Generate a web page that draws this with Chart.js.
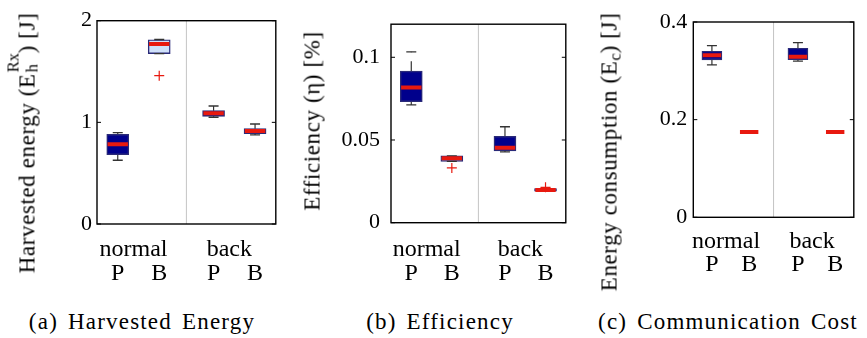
<!DOCTYPE html>
<html>
<head>
<meta charset="utf-8">
<script src="https://cdn.jsdelivr.net/npm/chart.js@4.4.1/dist/chart.umd.min.js"></script>
<style>
  html, body { margin: 0; padding: 0; background: #fff; }
  #wrap { position: relative; width: 867px; height: 338px; background: #fff; overflow: hidden; }
  canvas { position: absolute; top: 0; }
  .ytitle { position: absolute; font-family: "Liberation Serif", "Times New Roman", "DejaVu Serif", serif; font-size: 23px; line-height: 1;
            white-space: nowrap; color: #000; transform: translate(-50%, -50%) rotate(-90deg); letter-spacing: 0.6px; }
  .ss { position: relative; display: inline-block; width: 20px; height: 23px; vertical-align: baseline; }
  .ss .sup, .ss .sub { position: absolute; left: 1px; display: block; font-size: 16.5px; line-height: 1; letter-spacing: 0; }
  .ss .sup { top: -6px; }
  .ss .sub { top: 13px; }
  .sb { position: relative; top: 4px; font-size: 16.5px; letter-spacing: 0; }
  .cap { position: absolute; top: 310px; font-family: "Liberation Serif", "Times New Roman", "DejaVu Serif", serif; font-size: 23px; line-height: 23px;
         white-space: nowrap; color: #000; transform: translateX(-50%); letter-spacing: 1.2px; word-spacing: 3px; }
</style>
</head>
<body>
<div id="wrap">
  <canvas id="chartA" width="290" height="300" style="left:0px"></canvas>
  <canvas id="chartB" width="290" height="300" style="left:290px"></canvas>
  <canvas id="chartC" width="287" height="300" style="left:580px"></canvas>

  <div class="ytitle" style="left:25px; top:143px;">Harvested energy (E<span class="ss"><span class="sup">Rx</span><span class="sub">h</span></span>) [J]</div>
  <div class="ytitle" style="left:312px; top:121px;">Efficiency (η) [%]</div>
  <div class="ytitle" style="left:609px; top:152px;">Energy consumption (E<span class="sb">c</span>) [J]</div>

  <div class="cap" style="left:142px;">(a) Harvested Energy</div>
  <div class="cap" style="left:440px;">(b) Efficiency</div>
  <div class="cap" style="left:728px;">(c) Communication Cost</div>
</div>
<script>
// ---------------- data ----------------
const categories = ['P', 'B', 'P', 'B'];
const groups = ['normal', 'back'];
const positions = [1, 2, 3.31, 4.31];
const groupPositions = [1.38, 3.69];
const dividers = [2.655];

// (a) Harvested energy [J]
const harvestedHigh = [0.898, 1.815, 1.161, 0.984];
const harvestedQ3   = [0.882, 1.813, 1.115, 0.938];
const harvestedMed  = [0.784, 1.771, 1.089, 0.915];
const harvestedQ1   = [0.682, 1.676, 1.059, 0.888];
const harvestedLow  = [0.627, 1.676, 1.050, 0.876];
const harvestedOutliers = [[1, 1.459]];
const harvestedTicks = [0, 1, 2];
const harvestedTickLabels = ['0', '1', '2'];
const harvestedMax = 2;

// (b) Efficiency [%]
const efficiencyHigh = [0.1033, 0.0404, 0.0580, 0.0207];
const efficiencyQ3   = [0.0916, 0.0404, 0.0522, 0.0207];
const efficiencyMed  = [0.0817, 0.0390, 0.0453, 0.0198];
const efficiencyQ1   = [0.0732, 0.0371, 0.0434, 0.0191];
const efficiencyLow  = [0.0712, 0.0371, 0.0428, 0.0191];
const efficiencyOutliers = [[1, 0.0331], [3, 0.0214]];
const efficiencyTicks = [0, 0.05, 0.1];
const efficiencyTickLabels = ['0', '0.05', '0.1'];
const efficiencyMax = 0.12;

// (c) Energy consumption [J]
const commHigh = [0.3516, 0.1748, 0.3578, 0.1748];
const commQ3   = [0.3400, 0.1748, 0.3463, 0.1748];
const commMed  = [0.3320, 0.1748, 0.3290, 0.1748];
const commQ1   = [0.3223, 0.1748, 0.3230, 0.1748];
const commLow  = [0.3120, 0.1748, 0.3200, 0.1748];
const commOutliers = [];
const commTicks = [0, 0.2, 0.4];
const commTickLabels = ['0', '0.2', '0.4'];
const commMax = 0.4;

// ---------------- style ----------------
const boxFill = { P: '#00008c', B: '#cfe0fa' };
const boxEdge = '#2a2a78';
const medianColor = '#e8190f';
const whiskerColor = '#333333';
const dividerColor = '#c4c4c4';
const serifFamily = '"Liberation Serif", "Times New Roman", "DejaVu Serif", serif';

Chart.defaults.font.family = serifFamily;
Chart.defaults.font.size = 22;
Chart.defaults.font.lineHeight = 1.2;
Chart.defaults.color = '#000';

const framePlugin = {
  id: 'frame',
  afterDatasetsDraw(chart) {
    const { ctx, chartArea: a, scales } = chart;
    const y = scales.y;
    ctx.save();
    ctx.strokeStyle = '#000';
    ctx.lineWidth = 1;
    y.ticks.forEach(t => {
      const py = y.getPixelForValue(t.value);
      ctx.beginPath();
      ctx.moveTo(a.left, py); ctx.lineTo(a.left + 4, py);
      ctx.moveTo(a.right, py); ctx.lineTo(a.right - 4, py);
      ctx.stroke();
    });
    ctx.lineWidth = 1.4;
    ctx.strokeRect(a.left, a.top, a.right - a.left, a.bottom - a.top);
    ctx.restore();
  }
};

function buildChart(id, d, L) {
  const boxes = positions.map((p, i) => ({ x: p, y: [d.q1[i], d.q3[i]] }));
  const meds = positions.map((p, i) => ({ x: p, y: d.med[i] }));
  const caps = [];
  const stems = [];
  positions.forEach((p, i) => {
    caps.push({ x: p, y: d.hi[i] }, { x: p, y: d.lo[i] });
    stems.push({ x: p, y: d.q3[i] }, { x: p, y: d.hi[i] }, { x: p, y: null },
               { x: p, y: d.q1[i] }, { x: p, y: d.lo[i] }, { x: p, y: null });
  });
  const outs = d.out.map(o => ({ x: positions[o[0]], y: o[1] }));
  const divLine = [];
  dividers.forEach(x => { divLine.push({ x: x, y: d.ticks[0] }, { x: x, y: d.max }, { x: x, y: null }); });
  const tickFont = { family: serifFamily, size: 22, lineHeight: 1.2 };
  const xFont = { family: serifFamily, size: 24, lineHeight: 1.2 };

  return new Chart(document.getElementById(id), {
    type: 'bar',
    data: {
      datasets: [
        { type: 'line', data: divLine, borderColor: dividerColor, borderWidth: 1, pointRadius: 0, spanGaps: false, order: 6 },
        { type: 'line', data: stems, borderColor: whiskerColor, borderWidth: 1.2, borderDash: [10, 9], pointRadius: 0, spanGaps: false, order: 5 },
        { type: 'bar', data: boxes, backgroundColor: categories.map(c => boxFill[c]), borderColor: boxEdge,
          borderWidth: 1.4, borderSkipped: false, barThickness: L.bar, order: 4 },
        { type: 'line', data: caps, showLine: false, pointStyle: 'line', pointRadius: 5, pointBorderWidth: 1.3,
          pointBorderColor: whiskerColor, borderColor: whiskerColor, order: 3 },
        { type: 'line', data: meds, showLine: false, pointStyle: 'line', pointRadius: L.bar / 2 - 0.8, pointBorderWidth: 4,
          pointBorderColor: medianColor, borderColor: medianColor, order: 2 },
        { type: 'line', data: outs, showLine: false, pointStyle: 'cross', pointRadius: 5, pointBorderWidth: 1.2,
          pointBorderColor: medianColor, borderColor: medianColor, order: 1 }
      ]
    },
    options: {
      responsive: false,
      animation: false,
      events: [],
      layout: { padding: { left: 0, right: L.right, top: L.top, bottom: L.bottom } },
      plugins: { legend: { display: false }, tooltip: { enabled: false } },
      scales: {
        x: {
          type: 'linear', position: 'bottom', weight: 1, min: 0.5, max: 4.81, offset: false, display: true,
          grid: { display: false, offset: false, drawTicks: false }, border: { display: false },
          afterBuildTicks: s => { s.ticks = positions.map(v => ({ value: v })); },
          afterFit: s => { s.height = 30; },
          ticks: { font: xFont, color: '#000', autoSkip: false, maxRotation: 0, padding: L.xPad, callback: (v, i) => categories[i] }
        },
        x2: {
          type: 'linear', position: 'bottom', weight: 0, min: 0.5, max: 4.81, offset: false, display: true,
          grid: { display: false, drawTicks: false }, border: { display: false },
          afterBuildTicks: s => { s.ticks = groupPositions.map(v => ({ value: v })); },
          afterFit: s => { s.height = L.x2H; },
          ticks: { font: xFont, color: '#000', autoSkip: false, maxRotation: 0, padding: L.x2Pad, callback: (v, i) => groups[i] }
        },
        y: {
          type: 'linear', position: 'left', min: 0, max: d.max, beginAtZero: true,
          grid: { display: false, drawTicks: false }, border: { display: false },
          afterBuildTicks: s => { s.ticks = d.ticks.map(v => ({ value: v })); },
          afterFit: s => { s.width = L.yWidth; },
          ticks: { font: tickFont, color: '#000', autoSkip: false, padding: L.yPad, callback: (v, i) => d.labels[i] }
        }
      }
    },
    plugins: [framePlugin]
  });
}

function buildAll() {
  buildChart('chartA', {
    hi: harvestedHigh, q3: harvestedQ3, med: harvestedMed, q1: harvestedQ1, lo: harvestedLow,
    out: harvestedOutliers, ticks: harvestedTicks, labels: harvestedTickLabels, max: harvestedMax
  }, { right: 12, top: 20.7, bottom: 12, yWidth: 97, yPad: 5, x2H: 34, x2Pad: 11.8, xPad: 1.2, bar: 22 });

  buildChart('chartB', {
    hi: efficiencyHigh, q3: efficiencyQ3, med: efficiencyMed, q1: efficiencyQ1, lo: efficiencyLow,
    out: efficiencyOutliers, ticks: efficiencyTicks, labels: efficiencyTickLabels, max: efficiencyMax
  }, { right: 3, top: 16.5, bottom: 13.3, yWidth: 101, yPad: 11, x2H: 34, x2Pad: 13.1, xPad: 2.5, bar: 22 });

  buildChart('chartC', {
    hi: commHigh, q3: commQ3, med: commMed, q1: commQ1, lo: commLow,
    out: commOutliers, ticks: commTicks, labels: commTickLabels, max: commMax
  }, { right: 2.7, top: 22, bottom: 19.7, yWidth: 113.3, yPad: 6, x2H: 33, x2Pad: 10.2, xPad: 0.5, bar: 20 });
}

let built = false;
function once() { if (!built) { built = true; buildAll(); } }
if (document.fonts && document.fonts.load) {
  document.fonts.load('22px "Liberation Serif"').then(once, once);
  setTimeout(once, 400);
} else {
  once();
}
</script>
</body>
</html>
